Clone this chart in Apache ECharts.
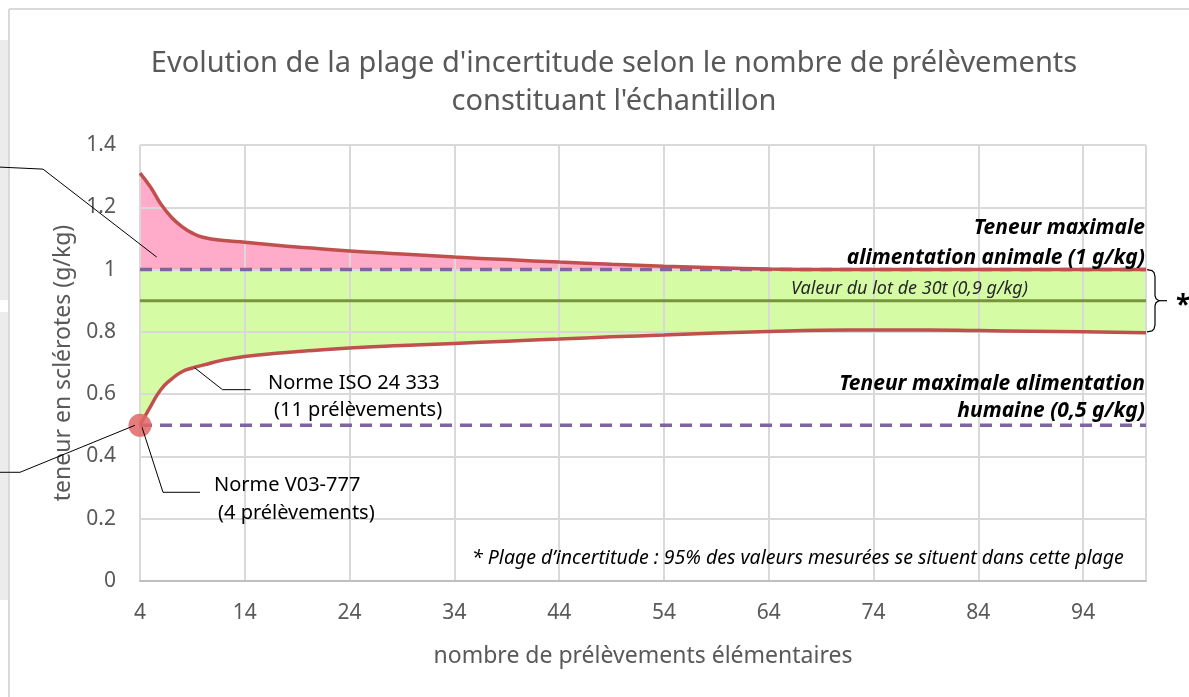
<!DOCTYPE html>
<html>
<head>
<meta charset="utf-8">
<script src="https://cdn.jsdelivr.net/npm/echarts@6/dist/echarts.min.js"></script>
<style>
  html, body { margin: 0; padding: 0; background: #fff; }
  #main { width: 1189px; height: 697px; }
</style>
</head>
<body>
<div id="main"></div>
<script>
// nombre de prélèvements (abscisses)
var nbPrelev = [4, 5, 6, 7, 8, 9, 10, 12, 14, 17, 20, 24, 29, 34, 39, 44, 49, 54, 59, 64, 69, 74, 79, 84, 89, 94, 100];
// borne haute de la plage d'incertitude (g/kg)
var borneHaute = [1.31, 1.265, 1.21, 1.168, 1.138, 1.117, 1.104, 1.093, 1.088, 1.078, 1.07, 1.06, 1.05, 1.04, 1.032, 1.024, 1.017, 1.011, 1.006, 1.002, 1.0, 1.0, 1.0, 1.0, 1.0, 1.0, 1.0];
// borne basse de la plage d'incertitude (g/kg)
var borneBasse = [0.50, 0.56, 0.615, 0.648, 0.672, 0.684, 0.693, 0.71, 0.721, 0.731, 0.739, 0.748, 0.756, 0.763, 0.77, 0.777, 0.784, 0.79, 0.796, 0.801, 0.805, 0.806, 0.806, 0.804, 0.802, 0.80, 0.797];
// seuils réglementaires et valeur du lot
var seuilAnimal = 1.0;
var seuilHumain = 0.5;
var valeurLot = 0.9;
// point de la norme V03-777
var pointV03 = [4, 0.5];
var yTicks = [0, 0.2, 0.4, 0.6, 0.8, 1, 1.2, 1.4];

var FONT = '"Noto Sans", "Open Sans", sans-serif';

function paires(xs, ys) {
    var res = [];
    for (var i = 0; i < xs.length; i++) {
        res.push([xs[i], ys[i]]);
    }
    return res;
}
function horiz(v) {
    return [[nbPrelev[0], v], [nbPrelev[nbPrelev.length - 1], v]];
}

var myChart = echarts.init(document.getElementById('main'));

var option = {
    backgroundColor: '#fff',
    animation: false,
    title: {
        text: "Evolution de la plage d'incertitude selon le nombre de prélèvements\nconstituant l'échantillon",
        left: 609,
        top: 40,
        textAlign: 'center',
        textStyle: {
            fontFamily: FONT,
            fontWeight: 'normal',
            fontSize: 29,
            lineHeight: 38,
            color: '#595959'
        }
    },
    grid: {
        left: 140,
        right: 43,
        top: 145,
        bottom: 116
    },
    xAxis: {
        type: 'value',
        min: 4,
        max: 100,
        interval: 10,
        z: 2,
        name: 'nombre de prélèvements élémentaires',
        nameLocation: 'middle',
        nameGap: 64,
        nameTextStyle: { fontFamily: FONT, fontSize: 23, color: '#595959' },
        axisLine: { lineStyle: { color: '#bfbfbf', width: 2 } },
        axisTick: { show: false },
        axisLabel: {
            fontFamily: FONT, fontSize: 21, color: '#595959', margin: 22,
            showMaxLabel: false
        },
        splitLine: { show: true, lineStyle: { color: '#d9d9d9', width: 2 } }
    },
    yAxis: {
        type: 'value',
        min: yTicks[0],
        max: yTicks[yTicks.length - 1],
        interval: 0.2,
        z: 2,
        name: 'teneur en sclérotes (g/kg)',
        nameLocation: 'middle',
        nameGap: 64,
        nameTextStyle: { fontFamily: FONT, fontSize: 23, color: '#595959' },
        axisLine: { show: false },
        axisTick: { show: false },
        axisLabel: { fontFamily: FONT, fontSize: 21, color: '#595959', margin: 24 },
        splitLine: { lineStyle: { color: '#d9d9d9', width: 2 } }
    },
    series: [
        {
            // zone au-dessus du seuil animal (rose)
            type: 'line',
            z: 1,
            smooth: 0.5,
            showSymbol: false,
            silent: true,
            lineStyle: { width: 0 },
            areaStyle: { color: '#ffabc9', opacity: 1, origin: seuilAnimal },
            data: paires(nbPrelev, borneHaute)
        },
        {
            // zone entre borne basse et seuil animal (vert)
            type: 'line',
            z: 1,
            smooth: 0.5,
            showSymbol: false,
            silent: true,
            lineStyle: { width: 0 },
            areaStyle: { color: '#d5fca5', opacity: 1, origin: seuilAnimal },
            data: paires(nbPrelev, borneBasse)
        },
        {
            type: 'line', z: 4, showSymbol: false, silent: true,
            lineStyle: { color: '#8064a2', width: 3.5, type: [12, 8] },
            data: horiz(seuilAnimal)
        },
        {
            type: 'line', z: 4, showSymbol: false, silent: true,
            lineStyle: { color: '#8064a2', width: 3.5, type: [12, 8] },
            data: horiz(seuilHumain)
        },
        {
            type: 'line', z: 4, showSymbol: false, silent: true,
            lineStyle: { color: '#77933c', width: 3 },
            data: horiz(valeurLot)
        },
        {
            type: 'line', z: 5, smooth: 0.5, showSymbol: false,
            lineStyle: { color: '#c0504d', width: 3.5 },
            data: paires(nbPrelev, borneHaute)
        },
        {
            type: 'line', z: 5, smooth: 0.5, showSymbol: false,
            lineStyle: { color: '#c0504d', width: 3.5 },
            data: paires(nbPrelev, borneBasse)
        },
        {
            type: 'scatter', z: 6, symbolSize: 23,
            itemStyle: { color: '#e06666', opacity: 0.85 },
            data: [pointV03]
        }
    ]
};
myChart.setOption(option);

// annotations (positions calées sur les coordonnées du graphique)
function px(x, y) {
    return myChart.convertToPixel({ gridIndex: 0 }, [x, y]);
}
function txt(x, y, s, align, style) {
    return {
        type: 'text', x: x, y: y, z: 10,
        style: Object.assign({
            text: s, align: align, verticalAlign: 'middle',
            font: '20px ' + FONT, fill: '#000'
        }, style || {})
    };
}
function ligne(pts, w) {
    return {
        type: 'polyline', z: 10, silent: true,
        shape: { points: pts },
        style: { stroke: '#000', lineWidth: w || 1, fill: null }
    };
}

var pRose = px(5.6, 1.04);
var pDot = px(pointV03[0], pointV03[1]);
var pIso = px(9.2, 0.685);
var yHaut = px(100, seuilAnimal)[1];
var yBas = px(100, 0.8)[1];
var yMil = (yHaut + yBas) / 2;
var xBr = px(100, 1)[0];
var grasItal = { font: 'italic bold 21px ' + FONT };

myChart.setOption({
    graphic: [
        // cadre et panneaux gris de gauche
        { type: 'rect', silent: true, shape: { x: 0, y: 40, width: 8, height: 260 }, style: { fill: '#ececec' } },
        { type: 'rect', silent: true, shape: { x: 0, y: 312, width: 8, height: 288 }, style: { fill: '#ececec' } },
        { type: 'line', silent: true, shape: { x1: 9, y1: 9, x2: 1189, y2: 9 }, style: { stroke: '#d9d9d9', lineWidth: 2 } },
        { type: 'line', silent: true, shape: { x1: 9, y1: 9, x2: 9, y2: 697 }, style: { stroke: '#d9d9d9', lineWidth: 2 } },

        // traits de rappel
        ligne([[0, pRose[1] - 90], [43, pRose[1] - 88], pRose]),
        ligne([[0, pDot[1] + 47], [20, pDot[1] + 47], [pDot[0] - 5, pDot[1]]]),
        ligne([[pDot[0] + 2, pDot[1] + 2], [pDot[0] + 23, pDot[1] + 67], [pDot[0] + 60, pDot[1] + 67]]),
        ligne([pIso, [pIso[0] + 28, pIso[1] + 22], [pIso[0] + 56, pIso[1] + 22]]),

        txt(268, 383, 'Norme ISO 24 333', 'left'),
        txt(274, 410, '(11 prélèvements)', 'left'),
        txt(214, 485, 'Norme V03-777', 'left'),
        txt(218, 513, '(4 prélèvements)', 'left'),

        txt(1145, 228, 'Teneur maximale', 'right', grasItal),
        txt(1145, 258, 'alimentation animale (1 g/kg)', 'right', grasItal),
        txt(1145, 384, 'Teneur maximale alimentation', 'right', grasItal),
        txt(1145, 411, 'humaine (0,5 g/kg)', 'right', grasItal),
        txt(791, 289, 'Valeur du lot de 30t (0,9 g/kg)', 'left', { font: 'italic 18px ' + FONT, fill: '#262626' }),
        txt(472, 558, '* Plage d\u2019incertitude : 95% des valeurs mesurées se situent dans cette plage', 'left',
            { font: 'italic 19.5px ' + FONT, fill: '#000' }),

        // accolade de la plage d'incertitude
        ligne([
            [xBr + 1, yHaut], [xBr + 6, yHaut + 1], [xBr + 8, yHaut + 3], [xBr + 9, yHaut + 7],
            [xBr + 9, yMil - 5], [xBr + 10, yMil - 2], [xBr + 13, yMil],
            [xBr + 10, yMil + 2], [xBr + 9, yMil + 5],
            [xBr + 9, yBas - 7], [xBr + 8, yBas - 3], [xBr + 6, yBas - 1], [xBr + 1, yBas]
        ], 1.2),
        ligne([[xBr + 13, yMil], [xBr + 21, yMil]], 1.2),
        txt(1183, yMil + 6, '*', 'center', { font: 'bold 26px ' + FONT })
    ]
});
</script>
</body>
</html>
